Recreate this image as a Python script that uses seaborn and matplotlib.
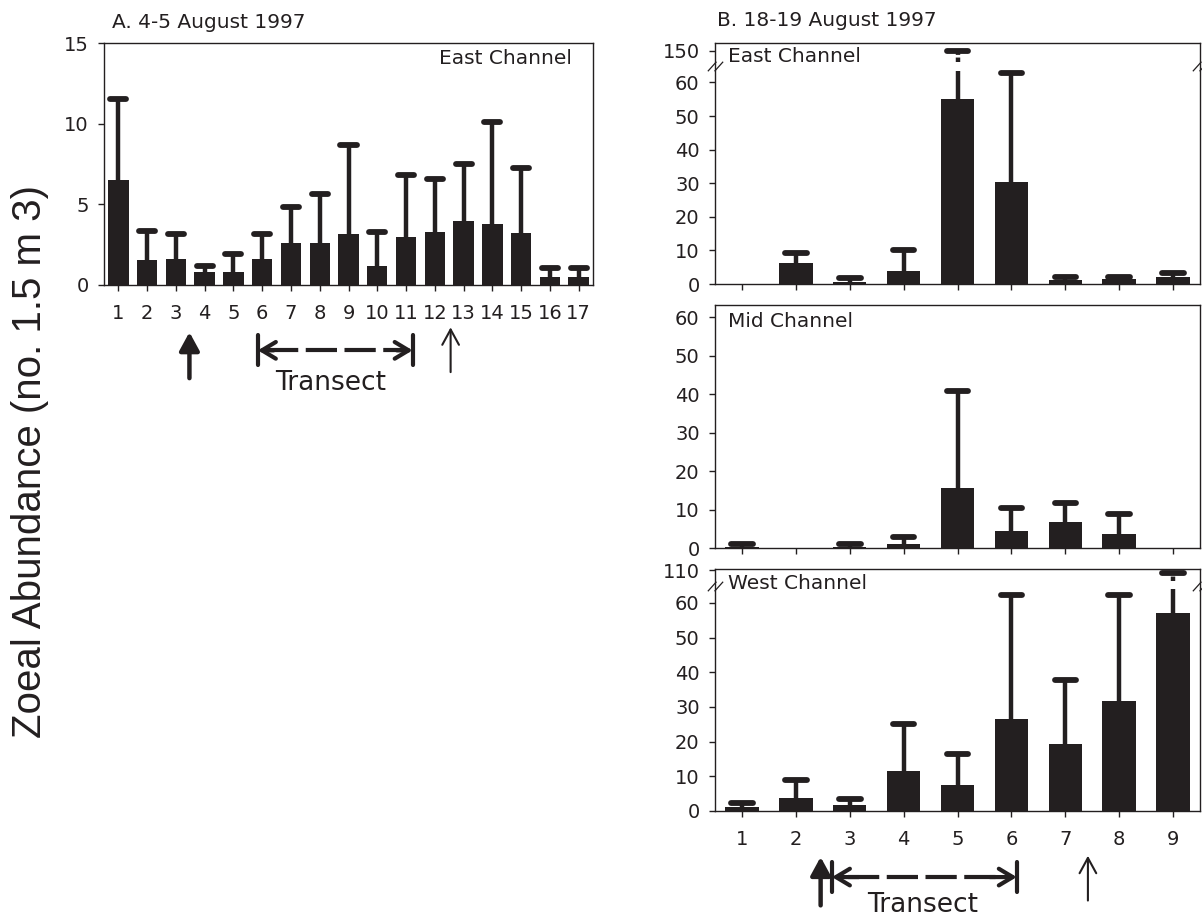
import numpy as np
import pandas as pd
import matplotlib
matplotlib.use("Agg")
import matplotlib.pyplot as plt
import matplotlib.transforms as mtransforms
from matplotlib.path import Path
import seaborn as sns

# ---------------- data ----------------
stations_a = [str(i) for i in range(1, 18)]
east_a_mean = [6.5, 1.55, 1.6, 0.8, 0.8, 1.6, 2.6, 2.6, 3.15, 1.2, 2.95, 3.3, 3.95, 3.8, 3.2, 0.5, 0.5]
east_a_upper = [11.5, 3.35, 3.15, 1.15, 1.9, 3.15, 4.85, 5.65, 8.65, 3.3, 6.8, 6.6, 7.5, 10.1, 7.25, 1.05, 1.05]

stations_b = [str(i) for i in range(1, 10)]
east_b_mean = [0, 6.2, 0.7, 3.8, 55.0, 30.3, 1.1, 1.4, 2.1]
east_b_upper = [0, 9.3, 1.8, 10.1, 152, 62.8, 2.2, 2.2, 3.2]
mid_b_mean = [0.3, 0, 0.3, 1.0, 15.6, 4.5, 6.7, 3.6, 0]
mid_b_upper = [1.1, 0, 1.1, 2.8, 40.9, 10.3, 11.8, 8.9, 0]
west_b_mean = [1.1, 3.7, 1.7, 11.6, 7.5, 26.4, 19.2, 31.6, 57.0]
west_b_upper = [2.2, 8.9, 3.4, 25.2, 16.3, 62.2, 37.9, 62.2, 101]

yticks_a = [0, 5, 10, 15]
yticks_east_b = [0, 10, 20, 30, 40, 50, 60, 150]
yticks_mid_b = [0, 10, 20, 30, 40, 50, 60]
yticks_west_b = [0, 10, 20, 30, 40, 50, 60, 110]

title_a = "A. 4-5 August 1997"
title_b = "B. 18-19 August 1997"
ylabel = "Zoeal Abundance (no. 1.5 m 3)"

# ---------------- style ----------------
INK = "#231f20"
sns.set_theme(style="ticks")
plt.rcParams["font.family"] = ["DejaVu Sans"]
plt.rcParams.update({
    "axes.edgecolor": INK, "axes.linewidth": 1.0,
    "xtick.color": INK, "ytick.color": INK,
    "xtick.labelcolor": INK, "ytick.labelcolor": INK,
    "text.color": INK,
})
TICK_FS = 14
LABEL_FS = 14.5

W, H = 1202, 917
fig = plt.figure(figsize=(W / 100, H / 100), dpi=100)


def px_axes(left, top, right, bottom):
    return fig.add_axes([left / W, 1 - bottom / H, (right - left) / W, (bottom - top) / H])


def make_break(brk, k):
    def fwd(y):
        y = np.asarray(y, dtype=float)
        return np.where(y <= brk, y, brk + (y - brk) * k)

    def inv(t):
        t = np.asarray(t, dtype=float)
        return np.where(t <= brk, t, brk + (t - brk) / k)
    return fwd, inv


def bars(ax, cats, means, uppers, width, cap_half, gap=None):
    df = pd.DataFrame({"station": cats, "value": means})
    sns.barplot(data=df, x="station", y="value", order=cats, color=INK,
                saturation=1, width=width, errorbar=None, ax=ax, zorder=2)
    for p in ax.patches:
        p.set_edgecolor("none")
    for i, (m, u) in enumerate(zip(means, uppers)):
        if u <= m:
            continue
        if gap is not None and u > gap[1]:
            ax.vlines(i, m, gap[0], color=INK, lw=3.2, zorder=3)
            ax.vlines(i, gap[1], u, color=INK, lw=3.2, zorder=3, linestyles=(0, (1.0, 0.6)))
        else:
            ax.vlines(i, m, u, color=INK, lw=3.2, zorder=3)
        lc = ax.hlines(u, i - cap_half, i + cap_half, color=INK, lw=4.2, zorder=4)
        lc.set_capstyle("round")
    ax.set_xlabel("")
    ax.set_ylabel("")


def style_axes(ax, n, show_xlabels=True):
    ax.set_xlim(-0.5, n - 0.5)
    for s in ax.spines.values():
        s.set_visible(True)
        s.set_color(INK)
        s.set_linewidth(1.0)
    ax.tick_params(axis="y", direction="out", length=4, width=1, pad=7, labelsize=TICK_FS)
    ax.tick_params(axis="x", direction="out", length=4, width=1, pad=10, labelsize=TICK_FS,
                   labelbottom=show_xlabels)
    ax.tick_params(top=False, right=False)


break_verts = [(-1.6, -1.0), (0.2, 1.0), (-0.2, -1.0), (1.6, 1.0)]
break_marker = Path(break_verts, [Path.MOVETO, Path.LINETO, Path.MOVETO, Path.LINETO])


def break_marks(ax, y):
    tr = mtransforms.blended_transform_factory(ax.transAxes, ax.transData)
    ax.plot([0, 1], [y, y], transform=tr, linestyle="none", marker=break_marker,
            markersize=11, markeredgewidth=0.9, markeredgecolor=INK, clip_on=False, zorder=6)


def arrow_up(ax, x, y0, y1, bold):
    tr = mtransforms.blended_transform_factory(ax.transData, ax.transAxes)
    if bold:
        props = dict(arrowstyle="-|>,head_length=0.55,head_width=0.3", lw=3.2, color=INK,
                     mutation_scale=20, shrinkA=0, shrinkB=0)
    else:
        props = dict(arrowstyle="->,head_length=0.55,head_width=0.3", lw=1.5, color=INK,
                     mutation_scale=20, shrinkA=0, shrinkB=0)
    ax.annotate("", xy=(x, y1), xytext=(x, y0), xycoords=tr, textcoords=tr,
                arrowprops=props, annotation_clip=False)


def transect(ax, x0, x1, y, bar_lo, bar_hi, head_len, text_x, text_y):
    tr = mtransforms.blended_transform_factory(ax.transData, ax.transAxes)
    ax.plot([x0 + head_len * 0.6, x1 - head_len * 0.6], [y, y], transform=tr, color=INK, lw=3,
            linestyle=(0, (7.5, 1.8)), clip_on=False, solid_capstyle="butt",
            dash_capstyle="butt")
    props = dict(arrowstyle="->,head_length=0.5,head_width=0.3", lw=3, color=INK,
                 mutation_scale=20, shrinkA=0, shrinkB=0)
    ax.annotate("", xy=(x0, y), xytext=(x0 + head_len, y), xycoords=tr, textcoords=tr,
                arrowprops=props, annotation_clip=False)
    ax.annotate("", xy=(x1, y), xytext=(x1 - head_len, y), xycoords=tr, textcoords=tr,
                arrowprops=props, annotation_clip=False)
    for xb in (x0, x1):
        ax.plot([xb, xb], [bar_lo, bar_hi], transform=tr, color=INK, lw=3, clip_on=False)
    ax.text(text_x, text_y, "Transect", transform=tr, ha="center", va="center", fontsize=19)


# ---------------- Panel A ----------------
axA = px_axes(104, 43, 593, 285)
bars(axA, stations_a, east_a_mean, east_a_upper, width=0.71, cap_half=0.28)
axA.set_ylim(0, 15)
axA.set_yticks(yticks_a)
style_axes(axA, len(stations_a))
axA.text(0.957, 0.938, "East Channel", transform=axA.transAxes, ha="right", va="center",
         fontsize=LABEL_FS)
arrow_up(axA, 2.47, -0.385, -0.195, bold=True)
arrow_up(axA, 11.55, -0.36, -0.175, bold=False)
transect(axA, 4.85, 10.23, -0.27, -0.205, -0.33, 0.55, 7.39, -0.405)

# ---------------- Panel B: East ----------------
fE, iE = make_break(65, 0.052)
axE = px_axes(715, 43, 1200, 284)
axE.set_yscale("function", functions=(fE, iE))
bars(axE, stations_b, east_b_mean, east_b_upper, width=0.62, cap_half=0.2,
     gap=(63.5, float(iE(66.2))))
axE.set_ylim(0, 195)
axE.set_yticks(yticks_east_b)
axE.set_yticklabels([str(t) for t in yticks_east_b])
axE.yaxis.set_minor_locator(matplotlib.ticker.NullLocator())
style_axes(axE, len(stations_b), show_xlabels=False)
break_marks(axE, 65)
axE.text(0.027, 0.942, "East Channel", transform=axE.transAxes, ha="left", va="center",
         fontsize=LABEL_FS)

# ---------------- Panel B: Mid ----------------
axM = px_axes(715, 305, 1200, 548)
bars(axM, stations_b, mid_b_mean, mid_b_upper, width=0.62, cap_half=0.2)
axM.set_ylim(0, 63.2)
axM.set_yticks(yticks_mid_b)
style_axes(axM, len(stations_b), show_xlabels=False)
axM.text(0.027, 0.931, "Mid Channel", transform=axM.transAxes, ha="left", va="center",
         fontsize=LABEL_FS)

# ---------------- Panel B: West ----------------
fW, iW = make_break(65, 0.1)
axW = px_axes(715, 569, 1200, 811)
axW.set_yscale("function", functions=(fW, iW))
bars(axW, stations_b, west_b_mean, west_b_upper, width=0.62, cap_half=0.2,
     gap=(64.0, float(iW(66.3))))
axW.set_ylim(0, 113)
axW.set_yticks(yticks_west_b)
axW.set_yticklabels([str(t) for t in yticks_west_b])
axW.yaxis.set_minor_locator(matplotlib.ticker.NullLocator())
style_axes(axW, len(stations_b), show_xlabels=True)
break_marks(axW, 65)
axW.text(0.027, 0.941, "West Channel", transform=axW.transAxes, ha="left", va="center",
         fontsize=LABEL_FS)
arrow_up(axW, 1.46, -0.39, -0.19, bold=True)
arrow_up(axW, 6.42, -0.37, -0.185, bold=False)
transect(axW, 1.67, 5.1, -0.273, -0.211, -0.335, 0.5, 3.36, -0.388)

# ---------------- titles & shared label ----------------
fig.text(112 / W, 1 - 22 / H, title_a, ha="left", va="center", fontsize=LABEL_FS)
fig.text(717 / W, 1 - 21 / H, title_b, ha="left", va="center", fontsize=LABEL_FS)
fig.text(30 / W, 1 - 461 / H, ylabel, rotation=90, ha="center", va="center", fontsize=29,
         family=["Liberation Sans", "DejaVu Sans"])

fig.savefig("out.png", dpi=100)
